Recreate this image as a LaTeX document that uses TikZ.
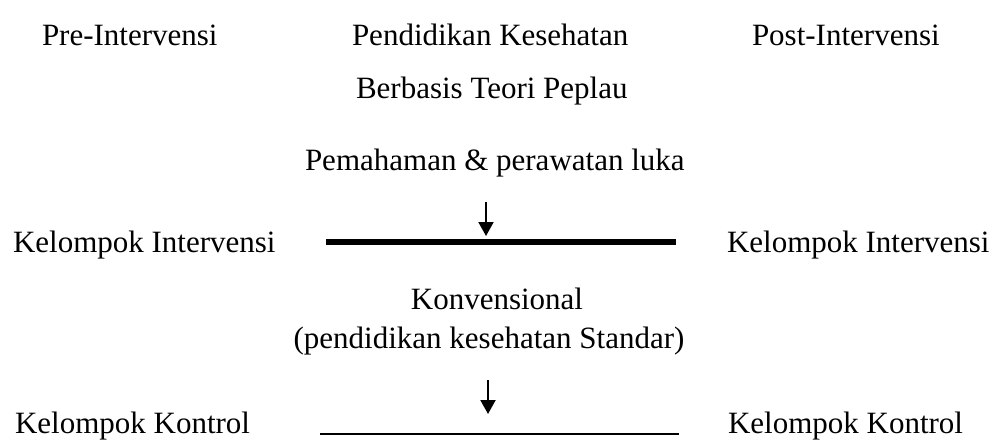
\documentclass[tikz,border=0pt]{standalone}
\usepackage{fontspec}
\setmainfont{Liberation Serif}
\usetikzlibrary{arrows.meta}
\begin{document}
\begin{tikzpicture}[x=1pt,y=1pt,
  lbl/.style={inner sep=0pt,outer sep=0pt,anchor=base west,font=\fontsize{31}{37}\selectfont},
  clbl/.style={inner sep=0pt,outer sep=0pt,anchor=base,font=\fontsize{31}{37}\selectfont},
  arr/.style={line width=2pt,-{Triangle[width=15pt,length=14pt]}},
  thickbar/.style={line width=6pt},
  thinbar/.style={line width=2.5pt}]
\useasboundingbox (0,0) rectangle (998,-439);
\node[lbl] (pre) at (42,-45) {Pre-Intervensi};
\node[lbl] (pk) at (352,-45) {Pendidikan Kesehatan};
\node[lbl] (post) at (752,-45) {Post-Intervensi};
\node[lbl] (btp) at (356,-98) {Berbasis Teori Peplau};
\node[lbl] (pem) at (305,-170) {Pemahaman \& perawatan luka};
\node[lbl] (ki1) at (13,-252) {Kelompok Intervensi};
\node[lbl] (ki2) at (727,-252) {Kelompok Intervensi};
\node[clbl] (konv) at (497,-309) {Konvensional};
\node[clbl] (std) at (489,-348) {(pendidikan kesehatan Standar)};
\node[lbl] (kk1) at (15,-433) {Kelompok Kontrol};
\node[lbl] (kk2) at (728,-433) {Kelompok Kontrol};
\coordinate (l1a) at (326,-242);
\coordinate (l1b) at (676,-242);
\coordinate (a1s) at (486,-202);
\coordinate (a1e) at (486,-236);
\coordinate (l2a) at (320,-434);
\coordinate (l2b) at (679,-434);
\coordinate (a2s) at (488,-380);
\coordinate (a2e) at (488,-414);
\draw[thickbar] (l1a) -- (l1b);
\draw[thinbar] (l2a) -- (l2b);
\draw[arr] (a1s) -- (a1e);
\draw[arr] (a2s) -- (a2e);
\end{tikzpicture}
\end{document}
